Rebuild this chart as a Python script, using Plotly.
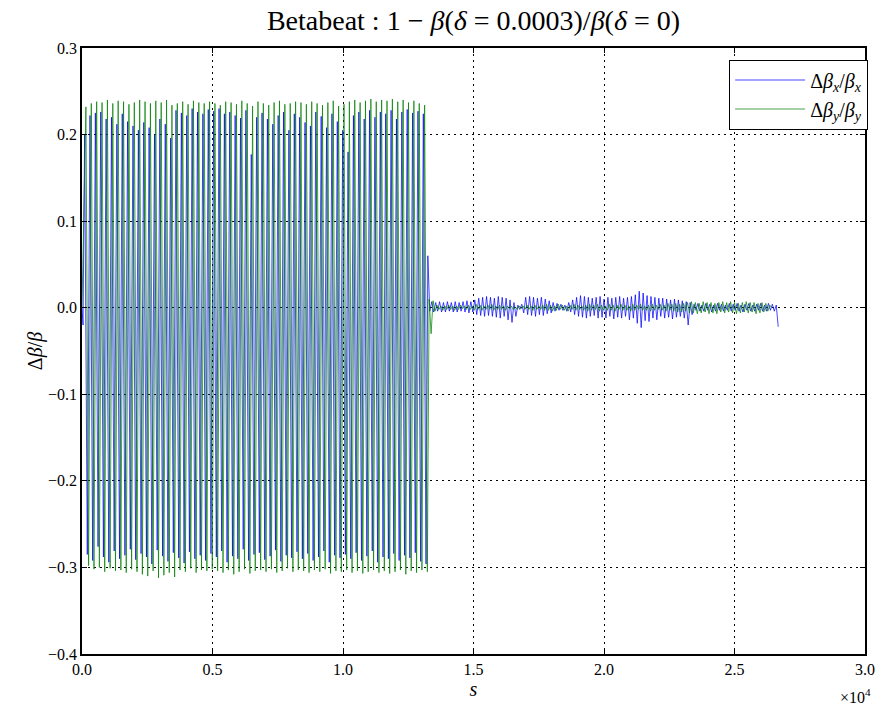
import plotly.graph_objects as go

# ---------------------------------------------------------------
# Beta-beating along the ring, values in units of 1e-3.
# Arc: lattice-sampled extrema of the beating wave.
# ---------------------------------------------------------------

# arc sampling of each block (metres)
BX_HEAD_S = [0, 40]
BX_HEAD = [0, -20]
BX_ARC_START, BX_ARC_STEP = 100, 103
GY_HEAD_S = [0]
GY_HEAD = [0]
GY_ARC_START, GY_ARC_STEP = 150, 103
BX_TAIL_START, BX_TAIL_STEP = 13250, 75
GY_TAIL_START, GY_TAIL_STEP = 13300, 75

# horizontal plane: maxima / minima in the arc section
bx_peaks = [200, 222, 225, 226, 218, 220, 212, 224, 215,
            210, 205, 214, 208, 200, 218, 212, 196,
            228, 225, 222, 230, 226, 224, 229,
            227, 230, 224, 226, 222, 219, 228, 177,
            220, 225, 218, 212, 222, 226, 205, 224,
            220, 214, 210, 226, 221, 208, 224, 215,
            205, 180, 222, 226, 218, 228, 220, 226, 224, 228, 218, 226, 229, 225, 227, 224]
bx_troughs = [-285, -292, -276, -288, -294, -281, -290, -286, -279,
              -291, -284, -288, -296, -280, -287, -293, -283,
              -289, -295, -282, -290, -286, -292, -284,
              -288, -281, -294, -287, -290, -279, -292, -285,
              -283, -291, -287, -280, -293, -286, -289, -282,
              -290, -284, -292, -288, -281, -294, -286, -289,
              -285, -290, -283, -292, -287, -281, -294, -288, -290, -284, -292, -286, -289, -283, -293, -296]

# vertical plane: maxima / minima in the arc section
gy_peaks = [232, 236, 238, 237, 240, 236, 239, 238, 235,
            237, 240, 238, 236, 239, 237, 240, 234,
            236, 238, 235, 239, 237, 236, 238,
            236, 234, 238, 237, 235, 239, 236, 233,
            238, 236, 234, 237, 239, 235, 236, 238,
            237, 235, 238, 236, 234, 237, 239, 233,
            235, 238, 240, 237, 239, 241, 238, 240, 239, 241, 238, 240, 237, 239, 236, 234]
gy_troughs = [-298, -302, -300, -305, -301, -304, -303, -306, -302,
              -305, -308, -310, -304, -312, -309, -306, -311,
              -303, -305, -301, -306, -303, -304, -302,
              -304, -306, -303, -308, -305, -302, -307, -304,
              -303, -305, -302, -306, -304, -301, -305, -303,
              -304, -306, -303, -305, -302, -307, -304, -305,
              -303, -306, -304, -307, -305, -303, -306, -304, -307, -305, -303, -308, -304, -306, -303, -305]

# straight / matched section: residual beating
bx_tail = [60, -4, 7, -5, 6, -4, 7, -5, 6, -5, 7, -4, 6, -5, 7, -5, 6, -4, 7, -5, 8, -6, 7, -5, 9,
           -8, 11, -9, 12, -10, 13, -9, 12, -10, 11, -11, 13, -12, 12, -10, 11, -14, 9, -17, 6,
           -10, 3, -2, 4, -6, 12, -8,
           13, -9, 12, -10, 11, -8, 12, -9, 10, -7, 8, -6, 6, -4, 5,
           -3, 4, -3, 3, -4, 6, -5, 9, -8, 12, -10, 14,
           -11, 13, -12, 12, -10, 11, -9, 12, -12, 13, -11, 10, -12, 12, -10, 11, -13, 12, -11, 13,
           -12, 11, -10, 12, -14, 13, -12,
           15, -18, 19, -23, 17, -15, 14, -16, 13, -12, 12, -14, 11,
           -10, 11, -12, 10, -11, 9, -13, 10, -11, 9, -10, 8, -12, 7, -20, 6, -8,
           4, -3, 5, -4, 3, -4, 5, -3, 4, -5, 3, -4, 5, -3, 4, -4, 3, -3, 5, -4, 4, -3,
           5, -4, 3, -5, 4, -3, 5, -4, 3, -4, 4, -3, 5, -4, 3, -4, 5, -3, 4, -4, 3, -22]
gy_tail = [10, -30, 8, -4, 3, -2, 2, -3, 2, -2, 3, -2, 2, -3, 2, -2, 3, -1, 2, -2,
           3, -2, 2, -3, 4, -2, 3, -3, 2, -2, 3, -2, 4, -3, 2, -2, 3, -2, 2, -3,
           2, -1, 2, -2, 1, -2, 2, -1, 2, -2, 3, -2, 2, -3, 3, -2, 2, -2, 3, -3,
           4, -3, 3, -4, 2, -3, 4, -2, 3, -3, 2, -4, 3, -2, 4, -3, 3, -2, 2, -3,
           3, -4, 4, -3, 3, -2, 4, -4, 3, -3, 2, -3, 4, -3, 3, -4, 3, -2, 4, -3,
           3, -3, 2, -4, 4, -3, 3, -2, 4, -3, 2, -3, 3, -4, 4, -3, 3, -2, 4, -3,
           3, -4, 5, -3, 4, -4, 5, -5, 4, -5, 5, -4, 6,
           -6, 7, -6, 6, -7, 5, -6, 7, -5, 6, -7, 6, -6, 5, -7, 6, -5, 7, -6, 6, -5, 7,
           -6, 6, -7, 5, -6, 6, -5, 7, -6, 6, -5, 6, -7, 5, -6, 6, -5, 5, -4, 3, 0]

x_tick_vals = [0, 5000, 10000, 15000, 20000, 25000, 30000]
x_tick_text = ["0.0", "0.5", "1.0", "1.5", "2.0", "2.5", "3.0"]
y_tick_vals = [-0.4, -0.3, -0.2, -0.1, 0.0, 0.1, 0.2, 0.3]


def assemble(head_s, head_v, start, step, peaks, troughs, t_start, t_step, tail):
    s = list(head_s)
    v = list(head_v)
    arc = [x for pair in zip(peaks, troughs) for x in pair]
    s += [start + i * step for i in range(len(arc))]
    v += arc
    s += [t_start + i * t_step for i in range(len(tail))]
    v += tail
    return s, [x * 1e-3 for x in v]


sx, bx = assemble(BX_HEAD_S, BX_HEAD, BX_ARC_START, BX_ARC_STEP, bx_peaks, bx_troughs,
                  BX_TAIL_START, BX_TAIL_STEP, bx_tail)
sy, gy = assemble(GY_HEAD_S, GY_HEAD, GY_ARC_START, GY_ARC_STEP, gy_peaks, gy_troughs,
                  GY_TAIL_START, GY_TAIL_STEP, gy_tail)

SERIF = "Liberation Serif, DejaVu Serif, serif"

fig = go.Figure()
fig.add_trace(go.Scatter(
    x=sx, y=bx, mode="lines",
    line=dict(color="rgba(0,0,255,0.72)", width=1),
    name="Δ<i>β</i><sub><i>x</i></sub>/<i>β</i><sub><i>x</i></sub>",
))
fig.add_trace(go.Scatter(
    x=sy, y=gy, mode="lines",
    line=dict(color="rgba(0,128,0,0.72)", width=1),
    name="Δ<i>β</i><sub><i>y</i></sub>/<i>β</i><sub><i>y</i></sub>",
))

axis_common = dict(
    showline=True, linecolor="black", linewidth=1.5, mirror="allticks",
    ticks="inside", ticklen=5, tickwidth=1, tickcolor="black",
    showgrid=True, gridcolor="black", gridwidth=1, griddash="2px,4px",
    zeroline=False, tickfont=dict(family=SERIF, size=16, color="black"),
)

fig.update_xaxes(
    range=[0, 30000], tickvals=x_tick_vals, ticktext=x_tick_text,
    title=dict(text="<i>s</i>", font=dict(family=SERIF, size=20, color="black"), standoff=2),
    **axis_common,
)
fig.update_yaxes(
    range=[-0.4, 0.3], tickvals=y_tick_vals, tickformat=".1f",
    title=dict(text="Δ<i>β</i>/<i>β</i>", font=dict(family=SERIF, size=20, color="black"), standoff=0),
    **axis_common,
)

fig.update_layout(
    width=887, height=706,
    margin=dict(l=82, r=14, t=48, b=42),
    paper_bgcolor="white", plot_bgcolor="white",
    title=dict(
        text="Betabeat : 1 − <i>β</i>(<i>δ</i> = 0.0003)/<i>β</i>(<i>δ</i> = 0)",
        font=dict(family=SERIF, size=28, color="black"),
        x=0.5, xref="paper", xanchor="center", y=0.972, yanchor="middle",
    ),
    legend=dict(
        x=1.004, y=0.981, xanchor="right", yanchor="top",
        bgcolor="white", bordercolor="black", borderwidth=1,
        font=dict(family=SERIF, size=20, color="black"),
        itemwidth=70, tracegroupgap=0,
    ),
    showlegend=True,
    annotations=[dict(
        text="×10<sup>4</sup>", x=1.01, xref="paper", xanchor="right",
        y=-0.05, yref="paper", yanchor="top", showarrow=False,
        font=dict(family=SERIF, size=16, color="black"),
    )],
)

fig.write_html("out.html")
